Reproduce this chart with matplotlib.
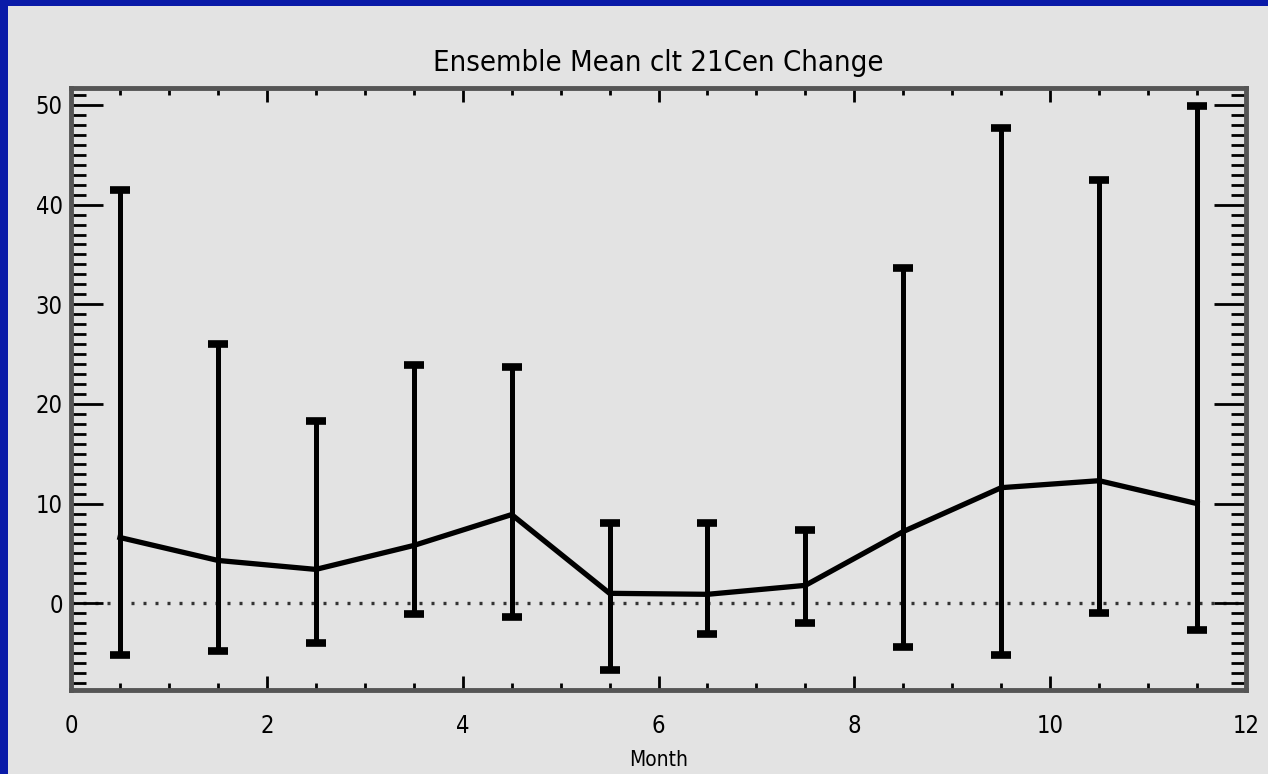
import matplotlib
matplotlib.use("Agg")
import matplotlib.pyplot as plt
from matplotlib.ticker import MultipleLocator

months = [0.5, 1.5, 2.5, 3.5, 4.5, 5.5, 6.5, 7.5, 8.5, 9.5, 10.5, 11.5]
mean_change = [6.6, 4.3, 3.4, 5.8, 8.9, 1.0, 0.9, 1.8, 7.2, 11.6, 12.3, 10.0]
upper = [41.5, 26.0, 18.3, 23.9, 23.7, 8.1, 8.1, 7.4, 33.6, 47.7, 42.5, 49.9]
lower = [-5.2, -4.8, -4.0, -1.1, -1.4, -6.7, -3.1, -2.0, -4.4, -5.2, -1.0, -2.7]
xticks = [0, 2, 4, 6, 8, 10, 12]
yticks = [0, 10, 20, 30, 40, 50]
title = "Ensemble Mean clt 21Cen Change"
xlabel = "Month"

BG = "#e3e3e3"
BLUE = "#0a1aa8"

fig = plt.figure(figsize=(12.68, 7.74), dpi=100, facecolor=BLUE)
# grey panel (blue only on left and top edges)
bg_ax = fig.add_axes([8/1268, 0, 1 - 8/1268, 1 - 6/774], zorder=-10)
bg_ax.set_axis_off()
bg_ax.add_patch(plt.Rectangle((0, 0), 1, 1, transform=bg_ax.transAxes,
                              facecolor=BG, edgecolor="none"))

ax = fig.add_axes([71/1268, 1 - 690/774, (1246-71)/1268, (690-88)/774], zorder=1)
ax.set_facecolor(BG)

yerr_lo = [m - l for m, l in zip(mean_change, lower)]
yerr_hi = [u - m for m, u in zip(mean_change, upper)]

ax.axhline(0, color="#333333", lw=2.4, ls=(0, (0.9, 2.7)), zorder=1)
ax.errorbar(months, mean_change, yerr=[yerr_lo, yerr_hi], fmt="none",
            ecolor="black", elinewidth=3.6, capsize=7.5, capthick=5.5, zorder=2)
ax.plot(months, mean_change, color="black", lw=3.8, zorder=3,
        solid_joinstyle="miter")

ax.set_xlim(0, 12)
ax.set_ylim(-8.7, 51.7)
ax.set_xticks(xticks)
ax.set_yticks(yticks)
ax.xaxis.set_minor_locator(MultipleLocator(0.5))
ax.yaxis.set_minor_locator(MultipleLocator(1))

font = dict(family="DejaVu Sans", fontstretch="condensed")
ax.set_xticklabels([str(t) for t in xticks], fontsize=17, **font)
ax.set_yticklabels([str(t) for t in yticks], fontsize=17, **font)
ax.tick_params(axis="both", which="both", direction="in", color="black",
               top=True, right=True)
ax.tick_params(axis="x", which="major", length=10, width=2, pad=17)
ax.tick_params(axis="x", which="minor", length=5, width=2)
ax.tick_params(axis="y", which="major", length=23, width=2, pad=6)
ax.tick_params(axis="y", which="minor", length=11, width=2)

for sp in ax.spines.values():
    sp.set_color("#555555")
    sp.set_linewidth(3.5)

ax.set_title(title, fontsize=21, pad=12, **font)
ax.set_xlabel(xlabel, fontsize=15, labelpad=9, **font)

fig.savefig("out.png", dpi=100, facecolor=BLUE)
